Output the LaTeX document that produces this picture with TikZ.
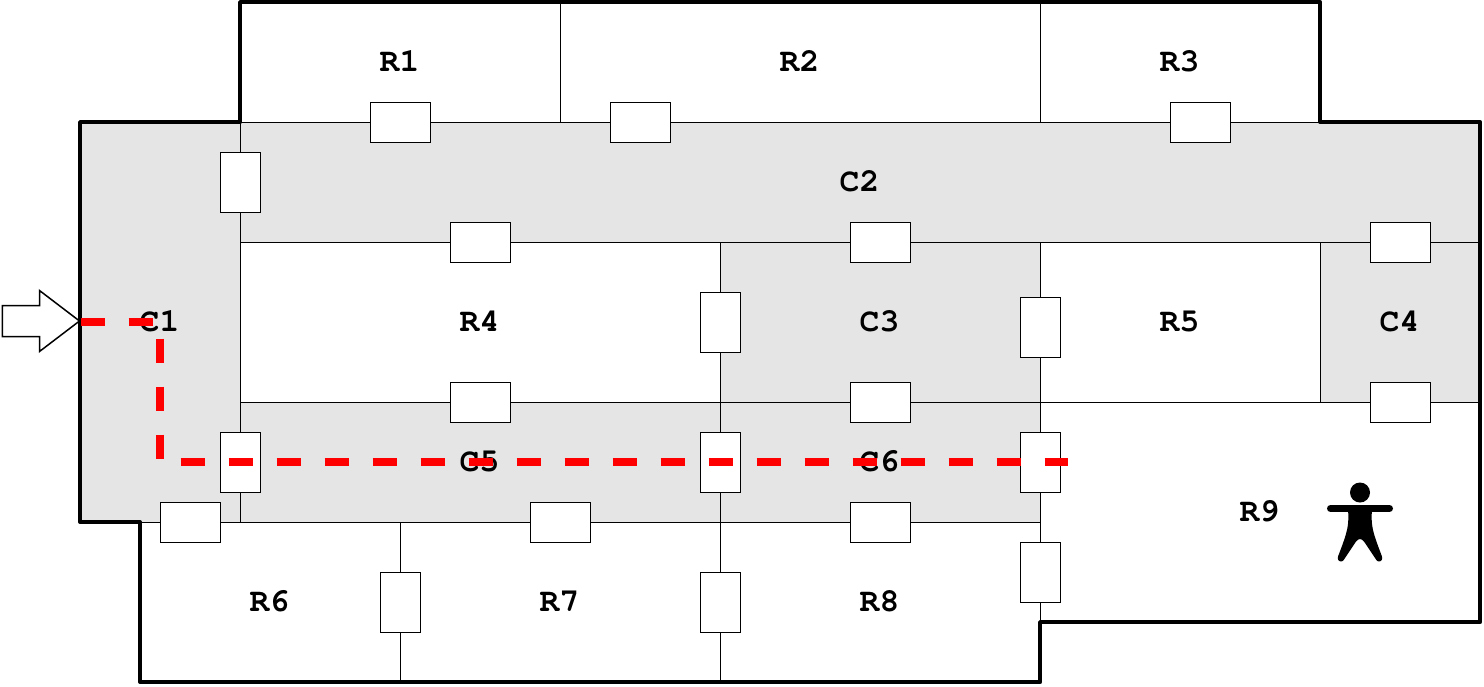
\documentclass[tikz,border=0pt]{standalone}
\begin{document}
\begin{tikzpicture}
    [x=1pt, y=-1pt,
     room/.style={font=\fontencoding{OT1}\fontfamily{pcr}\fontseries{b}\fontsize{33}{33}\selectfont, inner sep=0pt, yshift=0.7pt},
     hdoor/.style={draw=black, line width=1pt, fill=white, inner sep=0pt, minimum width=60pt, minimum height=40pt},
     vdoor/.style={draw=black, line width=1pt, fill=white, inner sep=0pt, minimum width=40pt, minimum height=60pt},
     corridor/.style={fill=black!10, draw=none},
     wall/.style={draw=black, line width=1pt},
     outer/.style={draw=black, line width=4pt, line join=round, xshift=-0.4pt, yshift=0.4pt},
     route/.style={draw=red, line width=8.4pt, dash pattern=on 24pt off 24pt},
    ]
    \useasboundingbox (-0.5,-0.5) rectangle (1483.5,685.5);

    % corridors
    \fill [corridor] (80,122) rectangle (240,522);
    \fill [corridor] (240,122) rectangle (1480,242);
    \fill [corridor] (720,242) rectangle (1040,402);
    \fill [corridor] (1320,242) rectangle (1480,402);
    \fill [corridor] (240,402) rectangle (1040,522);

    % inner walls
    \draw [wall] (240,122) -- (1320,122);
    \draw [wall] (560,2) -- (560,122);
    \draw [wall] (1040,2) -- (1040,122);
    \draw [wall] (240,242) -- (1480,242);
    \draw [wall] (240,402) -- (1480,402);
    \draw [wall] (140,522) -- (1040,522);
    \draw [wall] (240,122) -- (240,522);
    \draw [wall] (720,242) -- (720,682);
    \draw [wall] (1040,242) -- (1040,622);
    \draw [wall] (1320,242) -- (1320,402);
    \draw [wall] (400,522) -- (400,682);

    % outer walls
    \draw [outer] (240,122) -- (240,2) -- (1320,2) -- (1320,122) -- (1480,122)
        -- (1480,622) -- (1040,622) -- (1040,682) -- (140,682) -- (140,522)
        -- (80,522) -- (80,122) -- cycle;

    % doors
    \node (d1) [hdoor] at (400,122) {};
    \node (d2) [hdoor] at (640,122) {};
    \node (d3) [hdoor] at (1200,122) {};
    \node (d4) [hdoor] at (480,242) {};
    \node (d5) [hdoor] at (880,242) {};
    \node (d6) [hdoor] at (1400,242) {};
    \node (d7) [hdoor] at (480,402) {};
    \node (d8) [hdoor] at (880,402) {};
    \node (d9) [hdoor] at (1400,402) {};
    \node (d10) [hdoor] at (190,522) {};
    \node (d11) [hdoor] at (560,522) {};
    \node (d12) [hdoor] at (880,522) {};
    \node (d13) [vdoor] at (240,182) {};
    \node (d14) [vdoor] at (720,322) {};
    \node (d15) [vdoor] at (1040,327) {};
    \node (d16) [vdoor] at (240,462) {};
    \node (d17) [vdoor] at (720,462) {};
    \node (d18) [vdoor] at (1040,462) {};
    \node (d19) [vdoor] at (1040,572) {};
    \node (d20) [vdoor] at (400,602) {};
    \node (d21) [vdoor] at (720,602) {};

    % room names
    \node (r1) [room] at (399,62) {R1};
    \node (r2) [room] at (799,62) {R2};
    \node (r3) [room] at (1179,62) {R3};
    \node (r4) [room] at (479,322) {R4};
    \node (r5) [room] at (1179,322) {R5};
    \node (r6) [room] at (269,602) {R6};
    \node (r7) [room] at (559,602) {R7};
    \node (r8) [room] at (879,602) {R8};
    \node (r9) [room] at (1259,512) {R9};
    \node (c1) [room] at (159,322) {C1};
    \node (c2) [room] at (859,182) {C2};
    \node (c3) [room] at (879,322) {C3};
    \node (c4) [room] at (1399,322) {C4};
    \node (c5) [room] at (479,462) {C5};
    \node (c6) [room] at (879,462) {C6};

    % entrance arrow
    \draw [line width=1.5pt, fill=white, line join=miter] (2,305) -- (39,305) -- (39,290) -- (79,320.5)
        -- (39,351) -- (39,336) -- (2,336) -- cycle;

    % route to the person
    \coordinate (entry) at (80,321.7);
    \coordinate (bend1) at (159.7,321.7);
    \coordinate (bend2) at (159.7,461.7);
    \coordinate (goal) at (1067.7,461.7);
    \draw [route] (entry) -- (bend1) -- (bend2) -- (goal);

    % person
    \begin{scope}[xshift=-0.5pt]
        \fill (1360,492) circle (10pt);
        \draw [line width=7pt, line cap=round] (1330.5,508) -- (1389.5,508);
        \fill [rounded corners=1pt] (1348,508) .. controls (1349,525) and (1348,530) .. (1338,556)
            .. controls (1337,561) and (1342,562) .. (1344,559)
            -- (1356,541) .. controls (1359,538) and (1361,538) .. (1364,541)
            -- (1376,559) .. controls (1378,562) and (1383,561) .. (1382,556)
            .. controls (1372,530) and (1371,525) .. (1372,508) -- cycle;
    \end{scope}
\end{tikzpicture}
\end{document}
